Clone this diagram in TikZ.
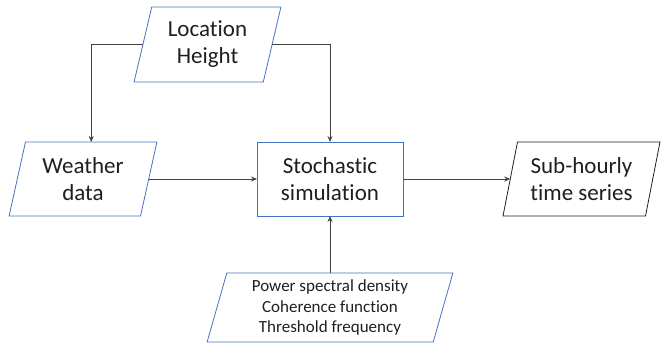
\documentclass[tikz,border=0pt]{standalone}
\usepackage{fontspec}
\setmainfont[Ligatures=NoCommon]{Carlito}
\usetikzlibrary{shapes.geometric,arrows.meta}
\definecolor{boxblue}{HTML}{4472C4}
\definecolor{ink}{HTML}{1F1F1F}
\begin{document}
\begin{tikzpicture}[x=1pt,y=-1pt,
  base/.style={draw=boxblue, line width=0.8pt, text=ink, align=center,
    inner sep=0pt, outer sep=0pt, font=\fontsize{23}{27}\selectfont},
  io/.style={base, trapezium, trapezium left angle=75,
    trapezium right angle=105, trapezium stretches=true},
  proc/.style={base, rectangle},
  link/.style={draw=ink!85, line width=0.8pt, -{Stealth[length=6pt,width=5pt]}}]
\useasboundingbox (0,0) rectangle (662,346);

% inputs, process and output
\node[io, minimum width=147pt, minimum height=75pt] (loc) at (207.5,44.5) {Location\\Height};
\node[io, minimum width=148pt, minimum height=74pt] (wx) at (83,179) {Weather\\data};
\node[proc, minimum width=146pt, minimum height=74pt] (sim) at (330,179) {Stochastic\\simulation};
\node[io, draw=ink, minimum width=157pt, minimum height=74pt] (out) at (581.5,179) {Sub-hourly\\time series};
\node[io, minimum width=246pt, minimum height=69pt,
  font=\fontsize{17}{20.5}\selectfont] (par) at (330,307.5)
  {Power spectral density\\Coherence function\\Threshold frequency};

% connectors
\draw[link] (loc.left side) -| (wx.top side);
\draw[link] (loc.right side) -| (sim.north);
\draw[link] (wx.right side) -- (sim.west);
\draw[link] (sim.east) -- (out.left side);
\draw[link] (sim.south |- par.north) -- (sim.south);
\end{tikzpicture}
\end{document}
